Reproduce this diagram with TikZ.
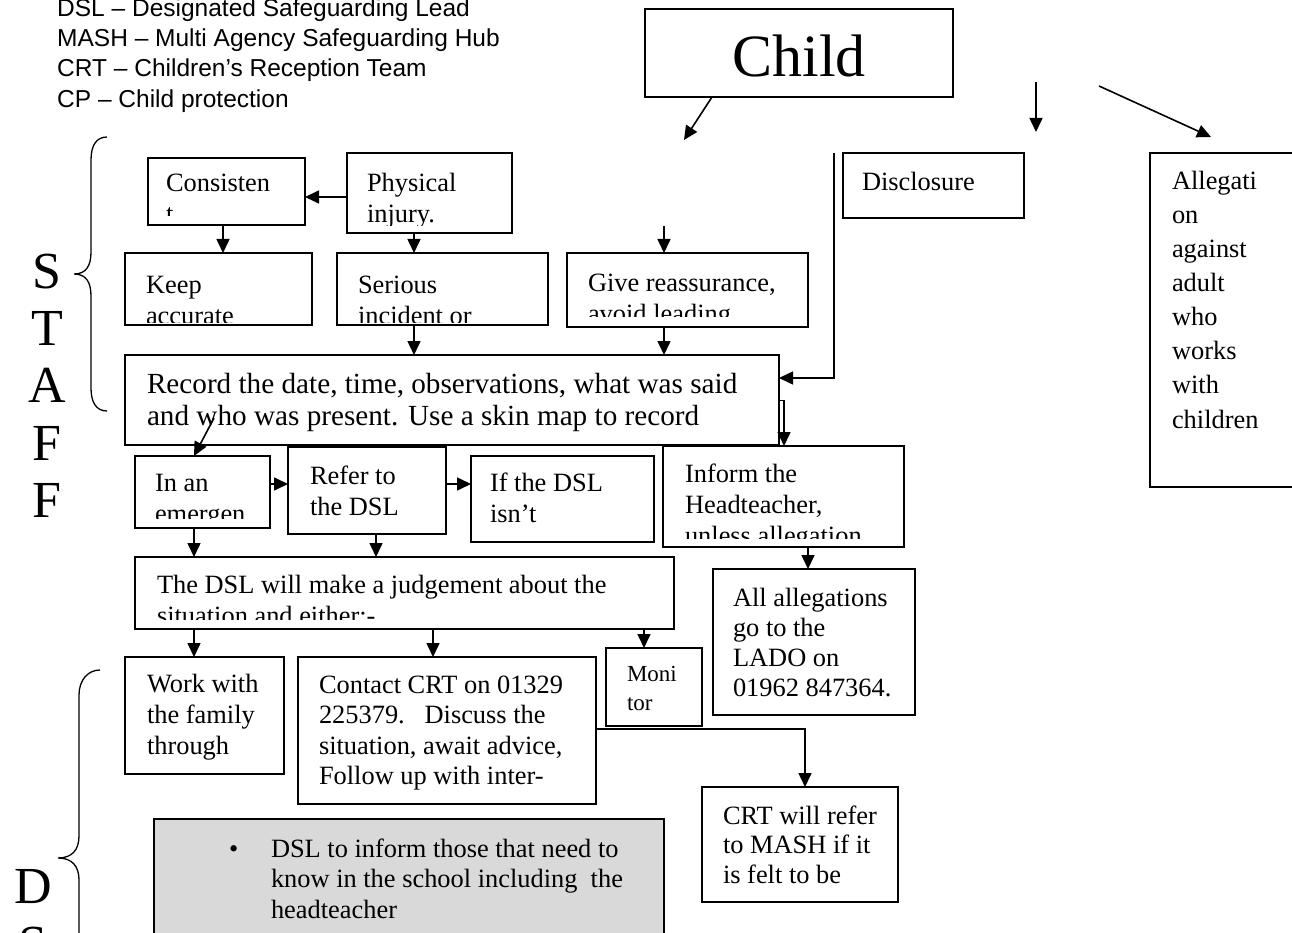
\documentclass[tikz,border=0pt]{standalone}
\usepackage{fontspec}
\setmainfont{Liberation Serif}
\newfontfamily\arialf{Liberation Sans}
\usetikzlibrary{arrows.meta}
\definecolor{greyfill}{RGB}{217,217,217}
\newcommand\ml[1]{\vtop{\halign{##\hfil\cr#1\crcr}}}
\newcommand\bx[6][]{\node[box,#1,minimum width={(#5)-(#3)},minimum height={(#6)-(#4)}] (#2) at ({((#3)+(#5))/2},{((#4)+(#6))/2}) {};}
\tikzset{
 box/.style={draw, line width=1.5pt, inner sep=0pt, outer sep=0pt},
 txt/.style={anchor=base west, inner sep=0pt, outer sep=0pt, font=\fontsize{26.4}{31}\selectfont},
 leg/.style={anchor=base west, inner sep=0pt, font=\arialf\fontsize{24.5}{30}\selectfont},
 big/.style={inner sep=0pt, font=\fontsize{52}{60}\selectfont},
 arr/.style={line width=1.6pt, -{Triangle[length=14pt,width=13pt]}},
 ln/.style={line width=1.6pt},
 bracel/.style={line width=1.3pt},
}
\begin{document}
\begin{tikzpicture}[x=1pt,y=-1pt]
\useasboundingbox (0,0) rectangle (1292,933);
\fill[white] (0,0) rectangle (1292,933);
\clip (0,0) rectangle (1292,933);

% legend
\node[leg] (l1) at (57,16.5) {DSL – Designated Safeguarding Lead};
\node[leg] (l2) at (57,46.5) {MASH – Multi Agency Safeguarding Hub};
\node[leg] (l3) at (57,77) {CRT – Children’s Reception Team};
\node[leg] (l4) at (57,107.5) {CP – Child protection};

% child
\bx{child}{645}{9}{953}{97}
\node[inner sep=0pt, anchor=base, font=\fontsize{60}{70}\selectfont] (childT) at (799,77) {Child};

% side letters
\node[big] (s1) at (47,272) {S};
\node[big] (s2) at (47,328) {T};
\node[big] (s3) at (47,385) {A};
\node[big] (s4) at (47,443) {F};
\node[big] (s5) at (47,500) {F};
\node[big] (d1) at (33,887) {D};
\node[big] (d2) at (33,945) {S};

% braces
\draw[bracel] (107,137) .. controls (96,137) and (91,146) .. (91,160) -- (91,252)
  .. controls (91,266) and (86,274) .. (74,274) .. controls (86,274) and (91,282) .. (91,296)
  -- (91,388) .. controls (91,402) and (96,411) .. (107,411);
\draw[bracel] (100,670) .. controls (88,670) and (79,680) .. (79,695) -- (79,836)
  .. controls (79,850) and (72,858) .. (58,858) .. controls (72,858) and (79,866) .. (79,880)
  -- (79,1021) .. controls (79,1036) and (88,1046) .. (100,1046);

% boxes
\bx{cons}{148}{158}{305}{225}
\bx{phys}{347}{153}{512}{233}
\bx{keep}{125}{253}{312}{325}
\bx{ser}{337}{253}{548}{325}
\bx{give}{567}{253}{808}{327}
\bx{disc}{843}{153}{1024}{218}
\bx{alleg}{1150}{153}{1310}{487}
\bx{rec}{125}{355}{779}{445}
\bx{emg}{135}{456}{270}{528}
\bx{ref}{288}{447}{446}{534}
\bx{ifd}{471}{456}{654}{542}
\bx{inf}{663}{446}{904}{547}
\bx{jud}{135}{557}{674}{629}
\bx{all}{713}{569}{915}{715}
\bx{work}{125}{657}{284}{774}
\bx{con}{298}{657}{596}{804}
\bx{mon}{606}{648}{702}{726}
\bx{crt}{702}{787}{898}{902}
\bx[fill=greyfill]{grey}{154}{819}{664}{960}

% texts (clipped like overflowing text boxes)
\begin{scope}\clip (148,158) rectangle (305,216);
\node[txt] (consT) at (166,192) {\ml{Consisten\cr t}};\end{scope}
\begin{scope}\clip (347,153) rectangle (512,226);
\node[txt] (physT) at (367,192) {\ml{Physical\cr injury.}};\end{scope}
\begin{scope}\clip (125,253) rectangle (312,322);
\node[txt] (keepT) at (146,293) {\ml{Keep\cr accurate}};\end{scope}
\begin{scope}\clip (337,253) rectangle (548,322);
\node[txt] (serT) at (358,293) {\ml{Serious\cr incident or}};\end{scope}
\begin{scope}\clip (567,253) rectangle (808,316);
\node[txt] (giveT) at (588,291) {\ml{Give reassurance,\cr avoid leading}};\end{scope}
\node[txt] (discT) at (862,191) {Disclosure};
\node[txt, font=\fontsize{26.4}{34}\selectfont] (allegT) at (1172,190)
  {\ml{Allegati\cr on\cr against\cr adult\cr who\cr works\cr with\cr children}};
\node[txt, font=\fontsize{29.2}{32}\selectfont] (recT) at (147,393) {\ml{Record the date, time, observations, what was said\cr and who was present. Use a skin map to record}};
\begin{scope}\clip (135,456) rectangle (270,518);
\node[txt] (emgT) at (155,491) {\ml{In an\cr emergen}};\end{scope}
\node[txt] (refT) at (310,484) {\ml{Refer to\cr the DSL}};
\node[txt] (ifdT) at (490,491) {\ml{If the DSL\cr isn’t}};
\begin{scope}\clip (663,446) rectangle (904,538);
\node[txt] (infT) at (685,482) {\ml{Inform the\cr Headteacher,\cr unless allegation}};\end{scope}
\begin{scope}\clip (135,557) rectangle (674,619);
\node[txt] (judT) at (157,593) {\ml{The DSL will make a judgement about the\cr situation and either:-}};\end{scope}
\node[txt, font=\fontsize{26.4}{30}\selectfont] (allT) at (733,606) {\ml{All allegations\cr go to the\cr LADO on\cr 01962 847364.}};
\node[txt] (workT) at (147,692) {\ml{Work with\cr the family\cr through}};
\node[txt, font=\fontsize{26.4}{30.5}\selectfont] (conT) at (319,693) {\ml{Contact CRT on 01329\cr 225379.\ \ \ Discuss the\cr situation, await advice,\cr Follow up with inter-}};
\node[txt, font=\fontsize{23}{29}\selectfont] (monT) at (627,681) {\ml{Moni\cr tor}};
\node[txt, font=\fontsize{26.4}{29.5}\selectfont] (crtT) at (723,824) {\ml{CRT will refer\cr to MASH if it\cr is felt to be}};
\node[txt] (bul) at (229,857) {•};
\node[txt, font=\fontsize{26.4}{30.5}\selectfont] (greyT) at (271,857) {\ml{DSL to inform those that need to\cr know in the school including\ \ the\cr headteacher}};

% helper coordinates
\coordinate (c194) at (194,0);
\coordinate (c223) at (223,0);
\coordinate (c376) at (376,0);
\coordinate (c414) at (414,0);
\coordinate (c433) at (433,0);
\coordinate (c644) at (644,0);
\coordinate (c664) at (664,0);
\coordinate (c712) at (712,0);
\coordinate (c784) at (784,0);
\coordinate (c805) at (805,0);
\coordinate (c808) at (808,0);
\coordinate (r197) at (0,197);
\coordinate (r378) at (0,378);
\coordinate (r400) at (0,400);
\coordinate (r484) at (0,484);
\coordinate (r729) at (0,729);
\coordinate (a1e) at (684,140);
\coordinate (b1s) at (1036,82);
\coordinate (b1e) at (1036,132);
\coordinate (c1s) at (1099,86);
\coordinate (c1e) at (1211,137);
\coordinate (gtop) at (664,226);
\coordinate (dtop) at (834,153);
\coordinate (rdiag) at (214,418);

% connectors
\draw[arr] (child.south -| c712) -- (a1e);
\draw[arr] (b1s) -- (b1e);
\draw[arr] (c1s) -- (c1e);
\draw[arr] (phys.west |- r197) -- (cons.east |- r197);
\draw[arr] (cons.south -| c223) -- (keep.north -| c223);
\draw[arr] (phys.south -| c414) -- (ser.north -| c414);
\draw[arr] (ser.south -| c414) -- (rec.north -| c414);
\draw[arr] (gtop) -- (give.north -| c664);
\draw[arr] (give.south -| c664) -- (rec.north -| c664);
\draw[arr] (dtop) -- (dtop |- r378) -- (rec.east |- r378);
\draw[line width=1pt] (rec.east |- r400) -- (c784 |- r400);
\draw[arr] (c784 |- r400) -- (inf.north -| c784);
\draw[arr] (rdiag) -- (emg.north -| c194);
\draw[arr] (emg.east |- r484) -- (ref.west |- r484);
\draw[arr] (ref.east |- r484) -- (ifd.west |- r484);
\draw[arr] (emg.south -| c194) -- (jud.north -| c194);
\draw[arr] (ref.south -| c376) -- (jud.north -| c376);
\draw[arr] (inf.south -| c808) -- (all.north -| c808);
\draw[arr] (jud.south -| c194) -- (work.north -| c194);
\draw[arr] (jud.south -| c433) -- (con.north -| c433);
\draw[arr] (jud.south -| c644) -- (mon.north -| c644);
\draw[arr] (con.east |- r729) -- (c805 |- r729) -- (crt.north -| c805);
\end{tikzpicture}
\end{document}
